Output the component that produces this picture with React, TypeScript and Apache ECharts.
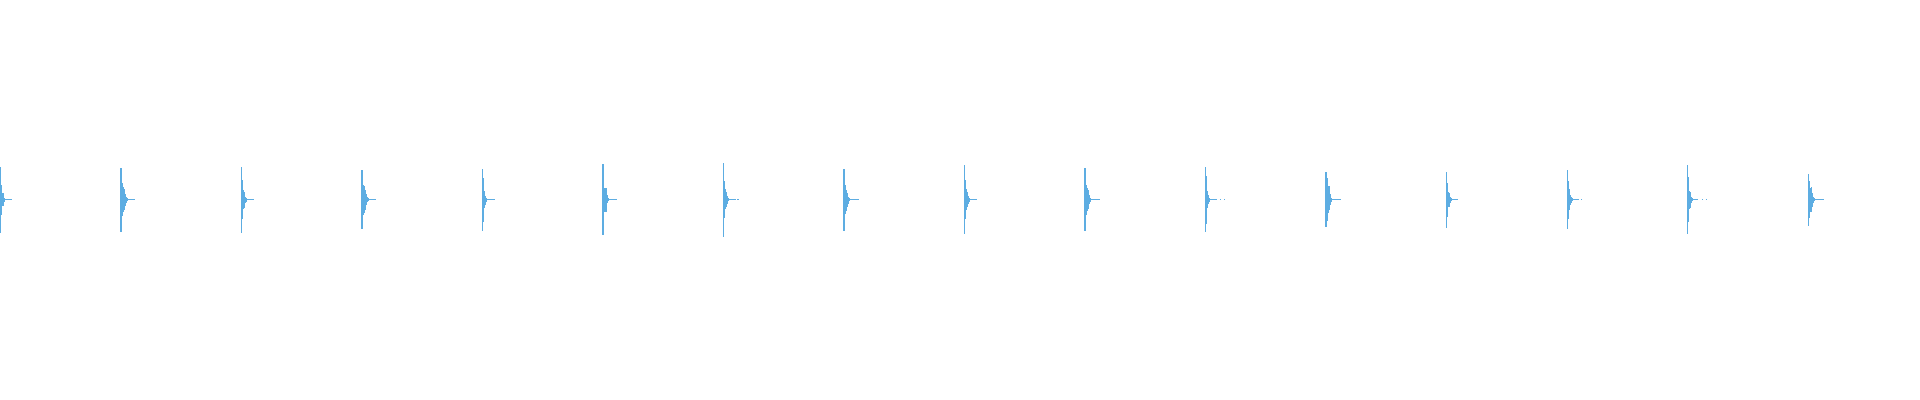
import React, { useEffect, useRef } from "react";
import * as echarts from "echarts";

// Clip duration (s) and envelope resolution (s per envelope column)
const DURATION = 7.966;
const SAMPLE_PERIOD = 0.00415;

// Onset time (s) of each hit
const BEAT_TIMES = [0, 0.5, 1.0, 1.5, 2.0, 2.5, 3.0, 3.5, 4.0, 4.5, 5.0, 5.5, 6.0, 6.5, 7.0, 7.5];

// Positive envelope (% of full scale) for each hit, column by column
const ENV_UP: number[][] = [
  [16.2, 7.2, 3.2, 3.2, 0.9, 0.35, 0.35, 0.35, 0.35, 0.35, 0.35, 0.35],
  [15.7, 8.2, 6.2, 5.5, 3.0, 1.4, 0.9, 0.35, 0.35, 0.35, 0.35, 0.35, 0, 0.35],
  [16.2, 9.7, 4.7, 3.9, 1.5, 0.9, 0.35, 0.35, 0.35, 0.35, 0.35, 0.35, 0.35],
  [14.7, 7.2, 6.7, 4.7, 2.7, 1.4, 0.9, 0.35, 0.35, 0.35, 0.35, 0.35, 0, 0.35],
  [15.2, 10.7, 4.2, 1.9, 0.9, 0.35, 0.35, 0.35, 0.35, 0.35, 0.35, 0.35, 0.35],
  [17.7, 5.7, 5.7, 5.7, 2.2, 0.9, 0.35, 0.35, 0.35, 0.35, 0.35, 0.35, 0, 0.35],
  [18.2, 9.2, 5.4, 3.9, 1.9, 0.9, 0.35, 0.35, 0.35, 0.35, 0.35, 0.35, 0.35, 0, 0.35, 0.35],
  [15.2, 7.2, 5.0, 3.2, 1.5, 0.9, 0.35, 0.35, 0.35, 0.35, 0.35, 0.35, 0, 0.35, 0.35],
  [17.2, 9.7, 5.2, 3.9, 1.9, 0.9, 0.35, 0.35, 0.35, 0.35, 0.35, 0.35, 0.35],
  [15.7, 7.2, 5.7, 4.7, 2.2, 0.9, 0.35, 0.35, 0.35, 0.35, 0.35, 0.35, 0, 0.35, 0.35],
  [16.2, 11.7, 4.2, 2.2, 0.9, 0.35, 0.35, 0.35, 0.35, 0.35, 0.35, 0.35, 0, 0, 0, 0.35, 0, 0, 0, 0.35],
  [13.7, 10.7, 5.7, 6.7, 3.0, 0.9, 0.35, 0.35, 0.35, 0.35, 0.35, 0.35, 0.35, 0.35, 0.35],
  [13.7, 8.2, 3.7, 3.2, 1.4, 0.9, 0.35, 0.35, 0.35, 0.35, 0.35, 0.35],
  [14.7, 9.2, 5.2, 2.2, 1.4, 0.9, 0.35, 0.35, 0.35, 0.35, 0.35, 0.35, 0, 0, 0.35],
  [17.2, 11.2, 4.2, 3.9, 1.5, 0.9, 0.35, 0.35, 0.35, 0.35, 0.35, 0, 0, 0, 0, 0.35, 0, 0, 0, 0.35],
  [12.7, 9.2, 5.7, 6.2, 3.2, 1.4, 0.9, 0.35, 0.35, 0.35, 0.35, 0.35, 0.35, 0.35, 0.35, 0.35],
];

// Negative envelope magnitude (% of full scale) for each hit, column by column
const ENV_DOWN: number[][] = [
  [16.7, 7.9, 3.4, 3.4, 1.2, 0.35, 0.35, 0.35, 0.35, 0.35, 0.35, 0.35],
  [16.2, 8.4, 6.2, 5.4, 3.2, 1.7, 0.7, 0.35, 0.35, 0.35, 0.35, 0.35, 0, 0.35],
  [16.7, 9.7, 4.9, 4.5, 2.0, 1.2, 0.35, 0.35, 0.35, 0.35, 0.35, 0.35, 0.35],
  [14.7, 7.9, 7.0, 5.4, 2.9, 1.5, 0.9, 0.35, 0.35, 0.35, 0.35, 0.35, 0, 0.35],
  [15.9, 11.2, 4.5, 2.9, 1.2, 0.35, 0.35, 0.35, 0.35, 0.35, 0.35, 0.35, 0.35],
  [17.9, 6.2, 6.2, 6.2, 2.0, 0.9, 0.35, 0.35, 0.35, 0.35, 0.35, 0.35, 0, 0.35],
  [18.9, 9.2, 4.9, 3.7, 2.2, 0.9, 0.35, 0.35, 0.35, 0.35, 0.35, 0.35, 0.35, 0, 0.35, 0.35],
  [15.9, 7.4, 5.7, 3.7, 2.2, 0.9, 0.35, 0.35, 0.35, 0.35, 0.35, 0.35, 0, 0.35, 0.35],
  [17.4, 9.9, 5.4, 4.0, 2.4, 1.2, 0.35, 0.35, 0.35, 0.35, 0.35, 0.35, 0.35],
  [15.9, 7.9, 5.7, 4.9, 2.5, 1.2, 0.35, 0.35, 0.35, 0.35, 0.35, 0.35, 0, 0.35, 0.35],
  [16.2, 12.4, 4.5, 2.5, 1.2, 0.35, 0.35, 0.35, 0.35, 0.35, 0.35, 0.35, 0, 0, 0, 0.35, 0, 0, 0, 0.35],
  [13.9, 10.9, 6.9, 5.5, 2.9, 1.2, 0.35, 0.35, 0.35, 0.35, 0.35, 0.35, 0.35, 0.35, 0.35],
  [14.2, 8.7, 4.0, 3.7, 1.9, 0.9, 0.35, 0.35, 0.35, 0.35, 0.35, 0.35],
  [14.9, 9.9, 5.5, 2.9, 1.7, 0.9, 0.35, 0.35, 0.35, 0.35, 0.35, 0.35, 0, 0, 0.35],
  [17.4, 11.2, 4.9, 4.5, 1.9, 0.9, 0.35, 0.35, 0.35, 0.35, 0.35, 0, 0, 0, 0, 0.35, 0, 0, 0, 0.35],
  [13.4, 9.5, 6.5, 6.2, 3.7, 1.9, 0.9, 0.35, 0.35, 0.35, 0.35, 0.35, 0.35, 0.35, 0.35, 0.35],
];

const WAVE_COLOR = "#5dade2";

function buildSeriesData(env: number[][], sign: number): [number, number][] {
  const out: [number, number][] = [];
  BEAT_TIMES.forEach((t0, i) => {
    env[i].forEach((v, k) => {
      if (v === 0) return;
      out.push([t0 + (k + 0.5) * SAMPLE_PERIOD, sign * v]);
    });
  });
  return out;
}

export default function App() {
  const ref = useRef<HTMLDivElement>(null);

  useEffect(() => {
    if (!ref.current) return;
    const chart = echarts.init(ref.current, undefined, { renderer: "svg" });
    chart.setOption({
      animation: false,
      backgroundColor: "#ffffff",
      grid: { left: 0, right: 0, top: 0, bottom: 1, containLabel: false },
      xAxis: {
        type: "value",
        min: 0,
        max: DURATION,
        show: false,
      },
      yAxis: {
        type: "value",
        min: -100,
        max: 100,
        show: false,
      },
      series: [
        {
          name: "up",
          type: "bar",
          stack: "wave",
          barWidth: 1.3,
          itemStyle: { color: WAVE_COLOR },
          data: buildSeriesData(ENV_UP, 1),
        },
        {
          name: "down",
          type: "bar",
          stack: "wave",
          barWidth: 1.3,
          itemStyle: { color: WAVE_COLOR },
          data: buildSeriesData(ENV_DOWN, -1),
        },
      ],
    });
    return () => chart.dispose();
  }, []);

  return (
    <>
      <style>{`.wave-chart svg path { shape-rendering: crispEdges; }`}</style>
      <div
        ref={ref}
        className="wave-chart"
        style={{ position: "fixed", left: 0, top: 0, width: 1920, height: 400, background: "#ffffff" }}
      />
    </>
  );
}
